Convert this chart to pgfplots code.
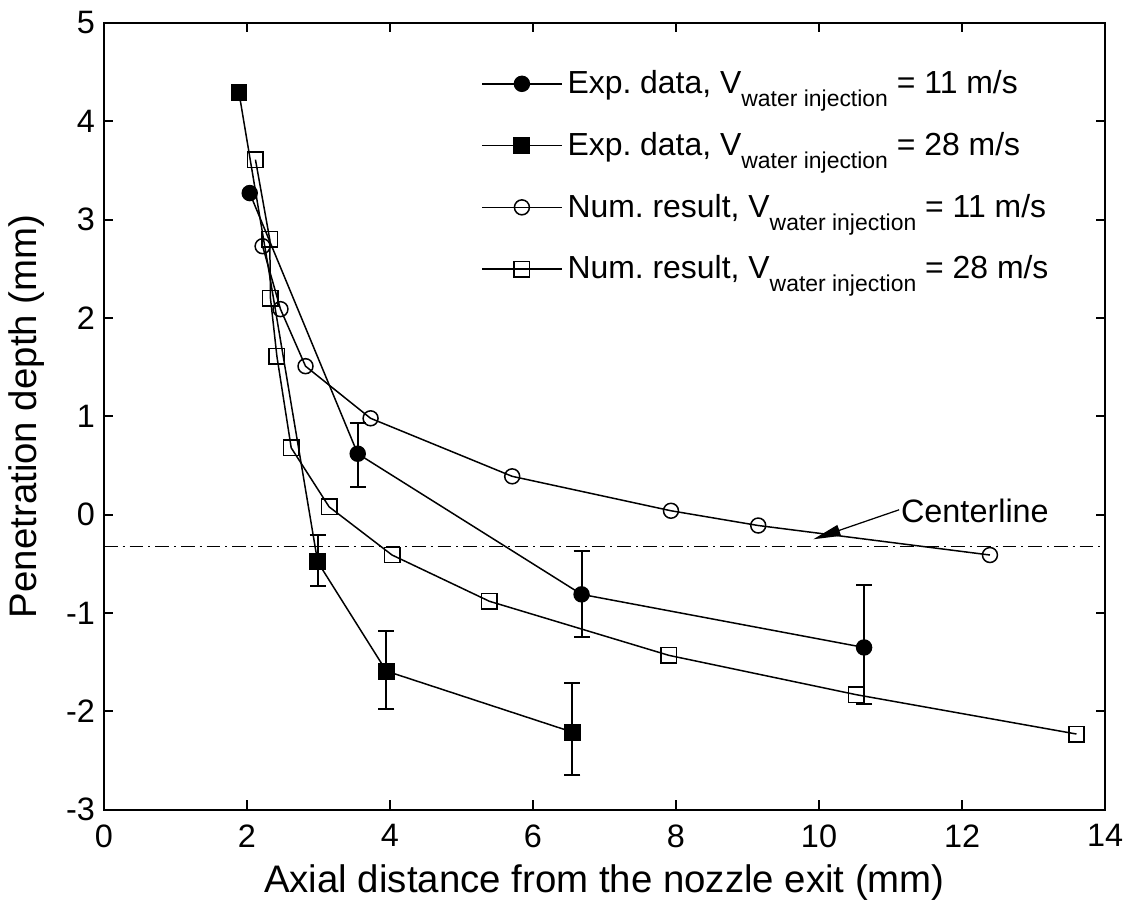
\documentclass[border=0pt]{standalone}
\usepackage{fontspec}
\setmainfont{Liberation Sans}
\usepackage{pgfplots}
\pgfplotsset{compat=1.18}
\usetikzlibrary{arrows.meta}
\frenchspacing

\newcommand{\vsub}{V\raisebox{-5.2pt}{\fontsize{9.2}{10}\selectfont water injection}}

\pgfplotstableread{
x y
2.04 3.27
3.55 0.62
6.68 -0.81
10.63 -1.35
}\expA
\pgfplotstableread{
x y ep em
3.55 0.62 0.31 0.34
6.68 -0.81 0.445 0.43
10.63 -1.35 0.64 0.57
}\expAerr
\pgfplotstableread{
x y
1.89 4.29
2.99 -0.48
3.95 -1.59
6.55 -2.21
}\expB
\pgfplotstableread{
x y ep em
2.99 -0.48 0.27 0.25
3.95 -1.59 0.41 0.39
6.55 -2.21 0.50 0.44
}\expBerr
\pgfplotstableread{
x y
2.22 2.73
2.47 2.09
2.82 1.51
3.73 0.98
5.71 0.39
7.93 0.04
9.15 -0.11
12.39 -0.41
}\numA
\pgfplotstableread{
x y
2.12 3.61
2.32 2.80
2.33 2.20
2.42 1.61
2.62 0.68
3.15 0.08
4.03 -0.41
5.39 -0.88
7.90 -1.43
10.52 -1.83
13.60 -2.23
}\numB

\begin{document}
\begin{tikzpicture}
\begin{axis}[
  scale only axis, width=401.6pt, height=315.6pt,
  xmin=0, xmax=14, ymin=-3, ymax=5,
  xtick={0,2,...,14}, ytick={-3,-2,...,5},
  tick align=inside, major tick length=3.8pt,
  axis line style={line width=1pt},
  every tick/.style={black, line width=0.8pt},
  /pgf/number format/assume math mode=true,
  tick label style={font=\fontsize{13}{15}\selectfont},
  xticklabel style={yshift=-2.4pt},
  label style={font=\fontsize{15.4}{18}\selectfont},
  xlabel={Axial distance from the nozzle exit (mm)},
  ylabel={Penetration depth (mm)},
  ylabel style={yshift=2pt},
  legend style={draw=none, fill=none, at={(rel axis cs:0.369,0.953)}, anchor=north west,
    font=\fontsize{12.8}{15}\selectfont, row sep=10pt},
  legend cell align=left,
  legend image code/.code={\draw[mark repeat=2,mark phase=2] plot coordinates {(0pt,0pt)(16pt,0pt)(32pt,0pt)};},
  every axis plot/.append style={black, line width=0.6pt},
]
\addplot[mark=*, mark size=3pt, mark options={solid, fill=black}] table {\expA};
\addlegendentry{Exp. data, \vsub{} = 11 m/s}
\addplot[mark=square*, mark size=3.1pt, mark options={solid, fill=black}] table {\expB};
\addlegendentry{Exp. data, \vsub{} = 28 m/s}
\addplot[mark=o, mark size=3pt, mark options={solid}] table {\numA};
\addlegendentry{Num. result, \vsub{} = 11 m/s}
\addplot[mark=square, mark size=3.1pt, mark options={solid}] table {\numB};
\addlegendentry{Num. result, \vsub{} = 28 m/s}

\addplot[forget plot, only marks, mark=none,
  error bars/.cd, y dir=both, y explicit,
  error bar style={draw=black, line width=0.8pt},
  error mark options={draw=black, line width=0.8pt, mark size=3.2pt, rotate=90}]
  table[y error plus=ep, y error minus=em] {\expAerr};
\addplot[forget plot, only marks, mark=none,
  error bars/.cd, y dir=both, y explicit,
  error bar style={draw=black, line width=0.8pt},
  error mark options={draw=black, line width=0.8pt, mark size=3.2pt, rotate=90}]
  table[y error plus=ep, y error minus=em] {\expBerr};

\addplot[forget plot, line width=0.5pt, dash pattern=on 5.5pt off 2pt on 0.8pt off 2pt] coordinates {(0,-0.32) (14,-0.32)};

\draw[line width=0.5pt, -{Triangle[length=11pt,width=4.5pt]}] (axis cs:11.12,0.05) -- (axis cs:9.92,-0.25);
\node[anchor=west, font=\fontsize{13}{15}\selectfont, inner sep=0pt] at (axis cs:11.14,0.04) {Centerline};
\end{axis}
\path ([shift={(-40.4pt,-36.4pt)}]current axis.south west) rectangle ([shift={(11.6pt,9.2pt)}]current axis.north east);
\end{tikzpicture}
\end{document}
